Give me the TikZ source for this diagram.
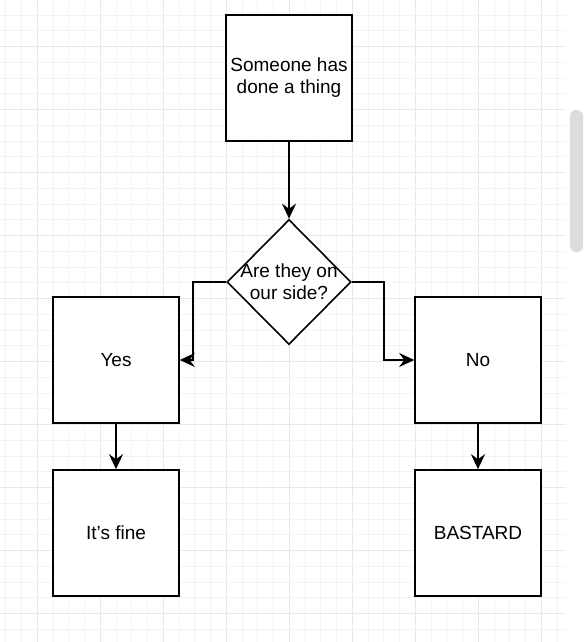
\documentclass[tikz,border=0pt]{standalone}
\usepackage{fontspec}
\setmainfont{Liberation Sans}
\usetikzlibrary{arrows.meta,shapes.geometric}
\definecolor{gridminor}{HTML}{F3F3F3}
\definecolor{gridmajor}{HTML}{E8E8E8}
\definecolor{scrollc}{HTML}{DCDCDC}
\tikzset{
  txt/.style={align=center, font=\fontsize{19}{22}\selectfont},
  boxnode/.style={draw=black, line width=1.6pt, fill=white, minimum width=126pt, minimum height=126pt, inner sep=0pt, txt},
  dianode/.style={draw=black, line width=1.6pt, fill=white, shape=diamond, minimum width=124pt, minimum height=125pt, inner sep=0pt},
  conn/.style={draw=black, line width=1.6pt, -{Stealth[length=15pt,width=14pt,inset=5pt]}},
}
\begin{document}
\begin{tikzpicture}[x=1pt,y=-1pt]
\useasboundingbox (0,0) rectangle (588,642);
\fill[white] (0,0) rectangle (588,642);
% grid
\foreach \k in {-3,...,32}{
  \pgfmathsetmacro{\xx}{53+15.75*\k}
  \pgfmathtruncatemacro{\m}{mod(\k+40,4)}
  \ifnum\m=3
    \draw[gridmajor, line width=0.9pt] (\xx,0) -- (\xx,642);
  \else
    \draw[gridminor, line width=0.8pt] (\xx,0) -- (\xx,642);
  \fi
}
\foreach \k in {-1,...,40}{
  \pgfmathsetmacro{\yy}{15+15.75*\k}
  \pgfmathtruncatemacro{\m}{mod(\k+40,4)}
  \ifnum\m=2
    \draw[gridmajor, line width=0.9pt] (0,\yy) -- (566,\yy);
  \else
    \draw[gridminor, line width=0.8pt] (0,\yy) -- (566,\yy);
  \fi
}
\fill[white] (566,0) rectangle (588,642);
% scrollbar
\fill[scrollc, rounded corners=6pt] (570,110) rectangle (583,252);
% nodes
\node[boxnode] (top) at (289,78) {Someone has\\done a thing};
\node[dianode, label={[txt]center:Are they on\\our side?}] (dia) at (289,282) {};
\node[boxnode] (yes) at (116,360) {Yes};
\node[boxnode] (no) at (478,360) {No};
\node[boxnode] (fine) at (116,533) {It’s fine};
\node[boxnode] (bast) at (478,533) {BASTARD};
% connectors
\draw[conn] (top.south) -- (dia.north);
\draw[conn] (dia.west) -- ++(-33,0) |- (yes.east);
\draw[conn] (dia.east) -- ++(32,0) |- (no.west);
\draw[conn] (yes.south) -- (fine.north);
\draw[conn] (no.south) -- (bast.north);
\end{tikzpicture}
\end{document}
